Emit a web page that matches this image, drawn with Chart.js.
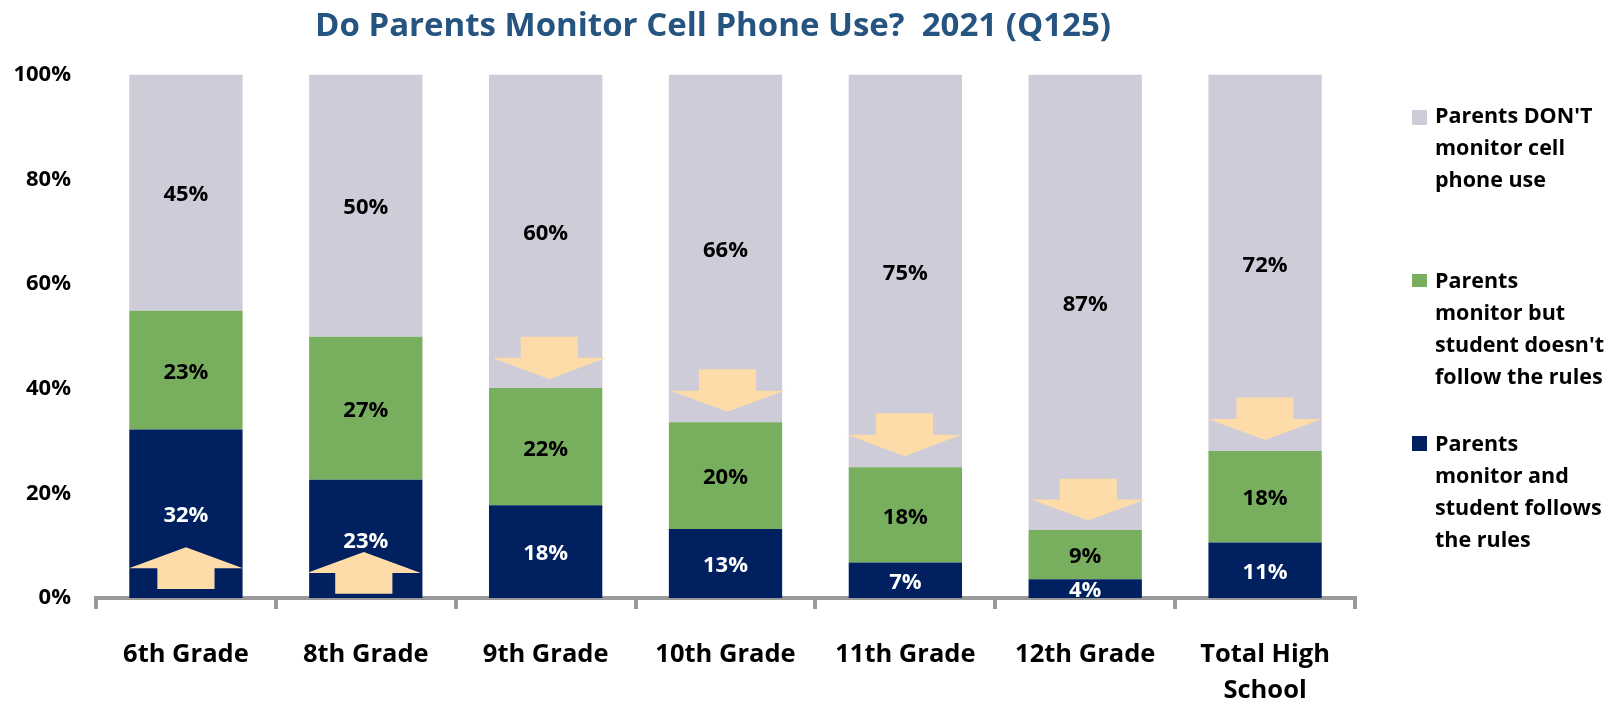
<!DOCTYPE html>
<html>
<head>
<meta charset="utf-8">
<style>html,body{margin:0;padding:0;background:#fff;overflow:hidden}canvas{display:block}</style>
<script src="https://cdn.jsdelivr.net/npm/chart.js@4/dist/chart.umd.min.js"></script>
</head>
<body>
<canvas id="c" width="1609" height="702"></canvas>
<script>
const categories = ['6th Grade','8th Grade','9th Grade','10th Grade','11th Grade','12th Grade',['Total High','School']];
const followsRules = [32.2,22.6,17.7,13.2,6.8,3.6,10.6];
const breaksRules  = [22.7,27.3,22.4,20.4,18.2,9.4,17.5];
const notMonitored = [45.1,50.1,59.9,66.4,75.0,87.0,71.9];
const followsLabels = ['32%','23%','18%','13%','7%','4%','11%'];
const breaksLabels  = ['23%','27%','22%','20%','18%','9%','18%'];
const notLabels     = ['45%','50%','60%','66%','75%','87%','72%'];
const legendNot     = ["Parents DON'T",'monitor cell','phone use'];
const legendBreaks  = ['Parents','monitor but',"student doesn't",'follow the rules'];
const legendFollows = ['Parents','monitor and','student follows','the rules'];
const arrowCenter = [0,0.989,2.02,3.011,3.995,5.017,6];
const arrowTip  = [9.7,8.8,41.8,35.6,27.1,14.8,30.2];
const arrowBase = [5.7,4.8,45.9,39.6,31.2,18.8,34.2];
const arrowTail = [1.7,0.8,49.9,43.7,35.3,22.8,38.3];

const NAVY='#002060', GREEN='#78AF5F', GREY='#CDCCD8', ARROW='#FDDCA9', AXIS='#9A9A9A';
const FONT='"Open Sans", sans-serif';

const decorations = {
  id:'decorations',
  afterLayout(chart){
    if(chart.titleBlock) chart.titleBlock.left = 71;
  },
  afterDatasetsDraw(chart){
    const {ctx,scales:{x,y}} = chart;
    ctx.save();
    ctx.fillStyle = ARROW;
    arrowCenter.forEach((c,i)=>{
      const cx = v=>x.getPixelForValue(c+v);
      ctx.beginPath();
      ctx.moveTo(cx(0),y.getPixelForValue(arrowTip[i]));
      ctx.lineTo(cx(0.317),y.getPixelForValue(arrowBase[i]));
      ctx.lineTo(cx(0.159),y.getPixelForValue(arrowBase[i]));
      ctx.lineTo(cx(0.159),y.getPixelForValue(arrowTail[i]));
      ctx.lineTo(cx(-0.159),y.getPixelForValue(arrowTail[i]));
      ctx.lineTo(cx(-0.159),y.getPixelForValue(arrowBase[i]));
      ctx.lineTo(cx(-0.317),y.getPixelForValue(arrowBase[i]));
      ctx.closePath();
      ctx.fill();
    });
    ctx.font = 'bold 22px '+FONT;
    ctx.textAlign='center';
    ctx.textBaseline='middle';
    chart.data.datasets.forEach((ds,d)=>{
      ctx.fillStyle = ds.labelColor;
      chart.getDatasetMeta(d).data.forEach((bar,i)=>{
        ctx.fillText(ds.valueLabels[i],bar.x,(bar.y+bar.base)/2+2.5);
      });
    });
    const groups = [
      {color:GREY,lines:legendNot,top:110,h:15,first:117},
      {color:GREEN,lines:legendBreaks,top:274,h:13,first:282},
      {color:NAVY,lines:legendFollows,top:436,h:15,first:445}
    ];
    ctx.font = 'bold 21.5px '+FONT;
    ctx.textAlign='left';
    groups.forEach(g=>{
      ctx.fillStyle=g.color;
      ctx.fillRect(1412,g.top,15,g.h);
      ctx.fillStyle='#000';
      g.lines.forEach((t,k)=>ctx.fillText(t,1435,g.first+k*32));
    });
    ctx.restore();
  }
};

new Chart(document.getElementById('c'),{
  type:'bar',
  data:{labels:categories,datasets:[
    {label:'Parents monitor and student follows the rules',data:followsRules,backgroundColor:NAVY,valueLabels:followsLabels,labelColor:'#fff'},
    {label:"Parents monitor but student doesn't follow the rules",data:breaksRules,backgroundColor:GREEN,valueLabels:breaksLabels,labelColor:'#000'},
    {label:"Parents DON'T monitor cell phone use",data:notMonitored,backgroundColor:GREY,valueLabels:notLabels,labelColor:'#000'}
  ]},
  options:{
    responsive:false,animation:false,
    datasets:{bar:{barPercentage:0.63,categoryPercentage:1}},
    layout:{padding:{left:0,right:254,top:0,bottom:0}},
    plugins:{
      legend:{display:false},tooltip:{enabled:false},
      title:{display:true,text:'Do Parents Monitor Cell Phone Use?  2021 (Q125)',color:'#255481',
        font:{family:FONT,size:33,weight:'bold',lineHeight:1.2},padding:{top:7,bottom:28},align:'center'}
    },
    scales:{
      x:{stacked:true,
        grid:{display:true,drawOnChartArea:false,drawTicks:true,color:AXIS,lineWidth:4,tickLength:11,offset:true},
        border:{display:true,color:AXIS,width:4},
        ticks:{color:'#000',font:{family:FONT,size:25.5,weight:'bold',lineHeight:1.41},padding:28,maxRotation:0,autoSkip:false},
        afterFit(s){s.height=104;}
      },
      y:{stacked:true,min:0,max:100,
        grid:{display:false},border:{display:false},
        ticks:{stepSize:20,color:'#000',font:{family:FONT,size:22,weight:'bold'},padding:17,callback:v=>v+'%'},
        afterFit(s){s.width=96;}
      }
    }
  },
  plugins:[decorations]
});
</script>
</body>
</html>
